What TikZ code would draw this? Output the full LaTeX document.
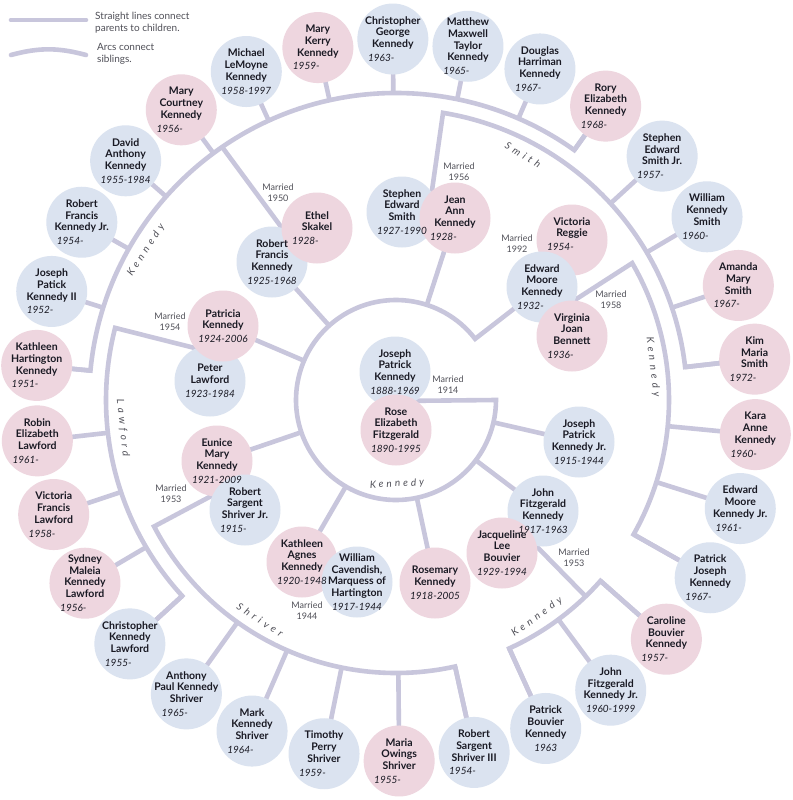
\documentclass[tikz,border=0pt]{standalone}
\usepackage{fontspec}
\setmainfont{Lato}
\newfontfamily\famfont[LetterSpace=40]{Lato}
\newfontfamily\famfontin[LetterSpace=30]{Lato}
\usetikzlibrary{calc}
\pgfdeclarelayer{bg}
\pgfdeclarelayer{fg}
\pgfsetlayers{bg,main,fg}
\definecolor{lnc}{RGB}{200,198,220}
\definecolor{bluef}{RGB}{219,227,240}
\definecolor{pinkf}{RGB}{238,214,223}
\definecolor{txtc}{RGB}{25,25,35}
\definecolor{grayt}{RGB}{80,80,88}
\newcommand\YrO[1]{\\[2.2pt]{\fontsize{10}{11}\selectfont\mdseries\itshape #1-\phantom{0000}}}
\newcommand\YrC[1]{\\[2.2pt]{\fontsize{10}{11}\selectfont\mdseries\itshape #1}}
\newcommand\gkid[5]{%
  \pgfmathsetmacro\gang{174.5-12*#2}%
  \node[#4] (c-#1) at ($(O)+(\gang:361pt)$) {};
  \coordinate (a-#1) at ($(O)+(\gang:#3pt)$);
  \begin{pgfonlayer}{bg}\draw[ln] (a-#1) -- (c-#1.center);\end{pgfonlayer}
  \begin{pgfonlayer}{fg}\node[nm] (t-#1) at (c-#1) {#5};\end{pgfonlayer}
}
\begin{document}
\begin{tikzpicture}[x=1pt,y=1pt,
  ln/.style={draw=lnc, line width=4.6pt},
  bc/.style={circle, fill=bluef, minimum size=71pt, inner sep=0pt},
  pc/.style={circle, fill=pinkf, minimum size=71pt, inner sep=0pt},
  nm/.style={align=center, font=\fontsize{10.5}{11.7}\selectfont\bfseries, text=txtc, inner sep=0pt},
  mar/.style={align=center, font=\fontsize{9}{11}\selectfont, text=grayt, inner sep=0pt},
  fam/.style={font=\fontsize{10}{11}\selectfont\famfont\itshape, text=grayt, inner sep=0pt},
  famin/.style={font=\fontsize{10}{11}\selectfont\famfontin\itshape, text=grayt, inner sep=0pt},
  lgt/.style={align=left, font=\fontsize{10}{12}\selectfont, text=grayt, inner sep=0pt, anchor=west}]
\begin{pgfonlayer}{bg}
\fill[white] (0,0) rectangle (792,-800);
\end{pgfonlayer}
\useasboundingbox (0,0) rectangle (792,-800);
\coordinate (O) at (396,-400);

% ---------- legend ----------
\coordinate (lg1a) at (11,-20);
\coordinate (lg1b) at (86,-20);
\coordinate (lg2a) at (11,-55);
\coordinate (lg2b) at (86,-55);
\draw[ln, line cap=round] (lg1a) -- (lg1b);
\draw[ln, line cap=round] (lg2a) to[bend left=15] (lg2b);
\node[lgt] (lgt1) at (95,-23) {Straight lines connect\\parents to children.};
\node[lgt] (lgt2) at (97,-54) {Arcs connect\\siblings.};

% ---------- parents and children circles ----------
\node[bc] (c-jpk) at (395,-372) {};
\node[pc] (c-rose) at (396,-430) {};
\node[bc] (c-jpkjr) at (579,-442) {};
\node[bc] (c-jfk) at (543,-511) {};
\node[pc] (c-jackie) at (502,-553) {};
\node[pc] (c-rosemary) at (435,-583) {};
\node[pc] (c-kathleen) at (302,-562) {};
\node[bc] (c-william) at (357,-582) {};
\node[pc] (c-eunice) at (217,-461) {};
\node[bc] (c-sargent) at (245,-510) {};
\node[bc] (c-peter) at (210,-381) {};
\node[pc] (c-patricia) at (223,-326) {};
\node[bc] (c-rfk) at (272,-262) {};
\node[pc] (c-ethel) at (317,-228) {};
\node[bc] (c-stephen) at (402,-212) {};
\node[pc] (c-jean) at (455,-218) {};
\node[pc] (c-victoria) at (572,-240) {};
\node[bc] (c-ted) at (542,-287) {};
\node[pc] (c-virginia) at (572,-336) {};

% ---------- grandchildren ----------
\gkid{k0}{0}{307}{pc}{Kathleen\\Hartington\\Kennedy\YrO{1951}}
\gkid{k1}{1}{307}{bc}{Joseph\\Patick\\Kennedy II\YrO{1952}}
\gkid{k2}{2}{307}{bc}{Robert\\Francis\\Kennedy Jr.\YrO{1954}}
\gkid{k3}{3}{307}{bc}{David\\Anthony\\Kennedy\YrC{1955-1984}}
\gkid{k4}{4}{307}{pc}{Mary\\Courtney\\Kennedy\YrO{1956}}
\gkid{k5}{5}{307}{bc}{Michael\\LeMoyne\\Kennedy\YrC{1958-1997}}
\gkid{k6}{6}{307}{pc}{Mary\\Kerry\\Kennedy\YrO{1959}}
\gkid{k7}{7}{307}{bc}{Christopher\\George\\Kennedy\YrO{1963}}
\gkid{k8}{8}{307}{bc}{Matthew\\Maxwell\\Taylor\\Kennedy\YrO{1965}}
\gkid{k9}{9}{307}{bc}{Douglas\\Harriman\\Kennedy\YrO{1967}}
\gkid{k10}{10}{307}{pc}{Rory\\Elizabeth\\Kennedy\YrO{1968}}
\gkid{k11}{11}{291}{bc}{Stephen\\Edward\\Smith Jr.\YrO{1957}}
\gkid{k12}{12}{291}{bc}{William\\Kennedy\\Smith\YrO{1960}}
\gkid{k13}{13}{291}{pc}{Amanda\\Mary\\Smith\YrO{1967}}
\gkid{k14}{14}{291}{pc}{Kim\\Maria\\Smith\YrO{1972}}
\gkid{k15}{15}{273}{pc}{Kara\\Anne\\Kennedy\YrO{1960}}
\gkid{k16}{16}{273}{bc}{Edward\\Moore\\Kennedy Jr.\YrO{1961}}
\gkid{k17}{17}{273}{bc}{Patrick\\Joseph\\Kennedy\YrO{1967}}
\gkid{k18}{18}{273}{pc}{Caroline\\Bouvier\\Kennedy\YrO{1957}}
\gkid{k19}{19}{273}{bc}{John\\Fitzgerald\\Kennedy Jr.\YrC{1960-1999}}
\gkid{k20}{20}{273}{bc}{Patrick\\Bouvier\\Kennedy\YrC{1963}}
\gkid{k21}{21}{273}{bc}{Robert\\Sargent\\Shriver III\YrO{1954}}
\gkid{k22}{22}{273}{pc}{Maria\\Owings\\Shriver\YrO{1955}}
\gkid{k23}{23}{273}{bc}{Timothy\\Perry\\Shriver\YrO{1959}}
\gkid{k24}{24}{273}{bc}{Mark\\Kennedy\\Shriver\YrO{1964}}
\gkid{k25}{25}{273}{bc}{Anthony\\Paul Kennedy\\Shriver\YrO{1965}}
\gkid{k26}{26}{290}{bc}{Christopher\\Kennedy\\Lawford\YrO{1955}}
\gkid{k27}{27}{290}{pc}{Sydney\\Maleia\\Kennedy\\Lawford\YrO{1956}}
\gkid{k28}{28}{290}{pc}{Victoria\\Francis\\Lawford\YrO{1958}}
\gkid{k29}{29}{290}{pc}{Robin\\Elizabeth\\Lawford\YrO{1961}}

% ---------- connector coordinates ----------
\coordinate (m-jr) at ($(c-jpk)!0.5!(c-rose)$);
\coordinate (m-rfk) at ($(c-rfk)!0.5!(c-ethel)$);
\coordinate (m-jean) at ($(c-jean)!0.5!(c-stephen)$);
\coordinate (m-ted) at ($(c-ted)!0.5!(c-virginia)$);
\coordinate (m-jfk) at ($(c-jfk)!0.5!(c-jackie)$);
\coordinate (m-eun) at ($(c-eunice)!0.5!(c-sargent)$);
\coordinate (m-pat) at ($(c-patricia)!0.5!(c-peter)$);
\coordinate (r-end) at ($(O)+(37.7:100pt)$);
\coordinate (s-rfk) at ($(O)+(124.5:307pt)$);
\coordinate (s-smith) at ($(O)+(80.7:291pt)$);
\coordinate (s-ted) at ($(O)+(30.1:273pt)$);
\coordinate (s-jfk) at ($(O)+(-46:273pt)$);
\coordinate (s-shr) at ($(O)+(-152.4:273pt)$);
\coordinate (s-law) at ($(O)+(165.6:290pt)$);

\begin{pgfonlayer}{bg}
% inner ring
\draw[ln] (c-ted.center) -- (r-end) arc[start angle=37.7, end angle=360, radius=100pt] -- (m-jr);
\foreach \ch in {jpkjr,jfk,rosemary,kathleen,eunice,patricia,rfk,jean}{
  \draw[ln] ($(O)!100pt!(c-\ch.center)$) -- (c-\ch.center);
}
% family arcs
\draw[ln] (c-k0.center) -- (a-k0) arc[start angle=174.5, end angle=54.5, radius=307pt] -- (c-k10.center);
\draw[ln] (m-rfk) -- (s-rfk);
\draw[ln] (m-jean) -- (s-smith) arc[start angle=80.7, end angle=6.5, radius=291pt] -- (c-k14.center);
\draw[ln] (m-ted) -- (s-ted) arc[start angle=30.1, end angle=-29.5, radius=273pt] -- (c-k17.center);
\draw[ln] (c-k18.center) -- (a-k18) arc[start angle=-41.5, end angle=-65.5, radius=273pt] -- (c-k20.center);
\draw[ln] (m-jfk) -- (s-jfk);
\draw[ln] (m-eun) -- (s-shr) arc[start angle=-152.4, end angle=-77.5, radius=273pt] -- (c-k21.center);
\draw[ln] (m-pat) -- (s-law) arc[start angle=165.6, end angle=222.5, radius=290pt] -- (c-k26.center);
\end{pgfonlayer}

% ---------- texts of parents and children ----------
\begin{pgfonlayer}{fg}
\node[nm] (t-jpk) at (c-jpk) {Joseph\\Patrick\\Kennedy\YrC{1888-1969}};
\node[nm] (t-rose) at (c-rose) {Rose\\Elizabeth\\Fitzgerald\YrC{1890-1995}};
\node[nm] (t-jpkjr) at (c-jpkjr) {Joseph\\Patrick\\Kennedy Jr.\YrC{1915-1944}};
\node[nm] (t-jfk) at (c-jfk) {John\\Fitzgerald\\Kennedy\YrC{1917-1963}};
\node[nm] (t-jackie) at (c-jackie) {Jacqueline\\Lee\\Bouvier\YrC{1929-1994}};
\node[nm] (t-rosemary) at (c-rosemary) {Rosemary\\Kennedy\YrC{1918-2005}};
\node[nm] (t-kathleen) at (c-kathleen) {Kathleen\\Agnes\\Kennedy\YrC{1920-1948}};
\node[nm] (t-william) at (c-william) {William\\Cavendish,\\Marquess of\\Hartington\YrC{1917-1944}};
\node[nm] (t-eunice) at (c-eunice) {Eunice\\Mary\\Kennedy\YrC{1921-2009}};
\node[nm] (t-sargent) at (c-sargent) {Robert\\Sargent\\Shriver Jr.\YrO{1915}};
\node[nm] (t-patricia) at (c-patricia) {Patricia\\Kennedy\YrC{1924-2006}};
\node[nm] (t-peter) at (c-peter) {Peter\\Lawford\YrC{1923-1984}};
\node[nm] (t-rfk) at (c-rfk) {Robert\\Francis\\Kennedy\YrC{1925-1968}};
\node[nm] (t-ethel) at (c-ethel) {Ethel\\Skakel\YrO{1928}};
\node[nm] (t-stephen) at (c-stephen) {Stephen\\Edward\\Smith\YrC{1927-1990}};
\node[nm] (t-jean) at (c-jean) {Jean\\Ann\\Kennedy\YrO{1928}};
\node[nm] (t-victoria) at ($(c-victoria)+(0,6)$) {Victoria\\Reggie\YrO{1954}};
\node[nm] (t-ted) at (c-ted) {Edward\\Moore\\Kennedy\YrO{1932}};
\node[nm] (t-virginia) at (c-virginia) {Virginia\\Joan\\Bennett\YrO{1936}};
\end{pgfonlayer}

% ---------- marriage labels ----------
\node[mar] (mr1914) at (448,-385) {Married\\1914};
\node[mar] (mr1950) at (278,-193) {Married\\1950};
\node[mar] (mr1956) at (459,-172) {Married\\1956};
\node[mar] (mr1992) at (517,-244) {Married\\1992};
\node[mar] (mr1958) at (611,-300) {Married\\1958};
\node[mar] (mr1954) at (170,-322) {Married\\1954};
\node[mar] (mr1953a) at (171,-494) {Married\\1953};
\node[mar] (mr1944) at (307,-611) {Married\\1944};
\node[mar] (mr1953b) at (574,-558) {Married\\1953};

% ---------- family labels ----------
\node[famin, rotate=3] (f-inner) at (397,-484) {Kennedy};
\node[fam, rotate=57] (f-rfk) at (146,-250) {Kennedy};
\node[fam, rotate=-32] (f-smith) at (523,-155) {Smith};
\node[fam, rotate=-83] (f-ted) at (653,-367) {Kennedy};
\node[fam, rotate=-84] (f-law) at (123,-428) {Lawford};
\node[fam, rotate=36] (f-jfk) at (537,-617) {Kennedy};
\node[fam, rotate=-33] (f-shr) at (260,-620) {Shriver};
\end{tikzpicture}
\end{document}
